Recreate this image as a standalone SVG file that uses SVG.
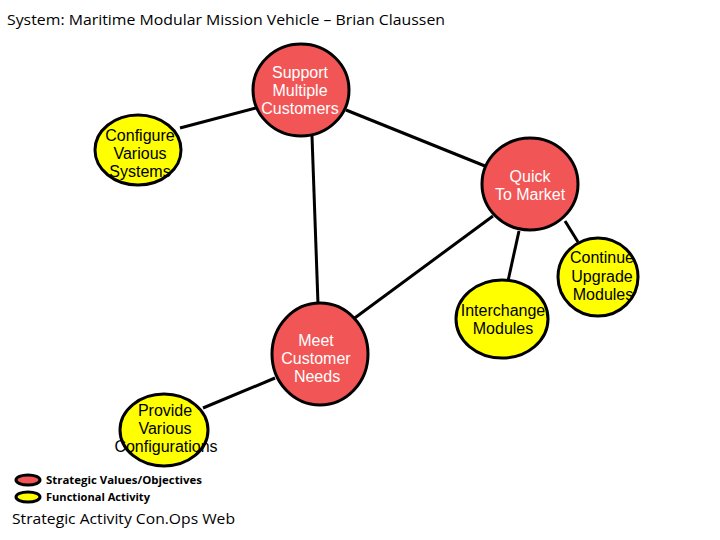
<svg xmlns="http://www.w3.org/2000/svg" width="720" height="540" viewBox="0 0 720 540">
<style>
.red{fill:#F25555;stroke:#000;stroke-width:3}
.yel{fill:#FFFF00;stroke:#000;stroke-width:3}
.lbl{font-family:"Liberation Sans",Arial,sans-serif;font-size:16px;text-anchor:middle}
.w{fill:#fff}
.b{fill:#000}
.con line{stroke:#000;stroke-width:3}
.cal{font-family:"Open Sans","Liberation Sans",sans-serif;fill:#000}
</style>
<rect width="720" height="540" fill="#fff"/>
<text class="cal" x="7" y="25" font-size="15" textLength="438" lengthAdjust="spacingAndGlyphs">System: Maritime Modular Mission Vehicle – Brian Claussen</text>
<g id="connectors" class="con">
<line x1="256" y1="108" x2="180" y2="128"/>
<line x1="346" y1="110" x2="485" y2="166"/>
<line x1="312" y1="136" x2="318" y2="304"/>
<line x1="493" y1="216" x2="352" y2="320"/>
<line x1="519" y1="231" x2="508" y2="281"/>
<line x1="565" y1="221" x2="578" y2="242"/>
<line x1="275" y1="378" x2="203" y2="408"/>
</g>
<g id="support">
<ellipse class="red" cx="301" cy="90" rx="48" ry="46"/>
<text class="lbl w"><tspan x="300" y="78">Support</tspan><tspan x="300" y="96">Multiple</tspan><tspan x="300" y="114">Customers</tspan></text>
</g>
<g id="configure">
<ellipse class="yel" cx="138" cy="150" rx="43" ry="35"/>
<text class="lbl b"><tspan x="140" y="141">Configure</tspan><tspan x="140" y="159">Various</tspan><tspan x="140" y="177">Systems</tspan></text>
</g>
<g id="quick">
<ellipse class="red" cx="530" cy="184" rx="48" ry="46"/>
<text class="lbl w"><tspan x="530" y="182">Quick</tspan><tspan x="530" y="200">To Market</tspan></text>
</g>
<g id="interchange">
<ellipse class="yel" cx="502" cy="319" rx="46" ry="39"/>
<text class="lbl b"><tspan x="503" y="316">Interchange</tspan><tspan x="503" y="334">Modules</tspan></text>
</g>
<g id="continue">
<ellipse class="yel" cx="598" cy="277" rx="40" ry="39"/>
<text class="lbl b"><tspan x="602" y="263">Continue</tspan><tspan x="602" y="282">Upgrade</tspan><tspan x="603" y="300">Modules</tspan></text>
</g>
<g id="meet">
<ellipse class="red" cx="320" cy="354" rx="48" ry="51"/>
<text class="lbl w"><tspan x="316" y="346">Meet</tspan><tspan x="316" y="364">Customer</tspan><tspan x="317" y="382">Needs</tspan></text>
</g>
<g id="provide">
<ellipse class="yel" cx="164" cy="430" rx="44" ry="36"/>
<text class="lbl b"><tspan x="165" y="416">Provide</tspan><tspan x="165" y="434">Various</tspan><tspan x="166" y="452">Configurations</tspan></text>
</g>
<g id="legend">
<ellipse class="red" cx="28" cy="480" rx="12" ry="5" stroke-width="2.5"/>
<ellipse class="yel" cx="28" cy="497" rx="12" ry="5" stroke-width="2.5"/>
<text class="cal" x="46" y="484" font-size="11" font-weight="bold" textLength="156" lengthAdjust="spacingAndGlyphs">Strategic Values/Objectives</text>
<text class="cal" x="46" y="501" font-size="11" font-weight="bold" textLength="104" lengthAdjust="spacingAndGlyphs">Functional Activity</text>
<text class="cal" x="12" y="524" font-size="15" textLength="223" lengthAdjust="spacingAndGlyphs">Strategic Activity Con.Ops Web</text>
</g>
</svg>
